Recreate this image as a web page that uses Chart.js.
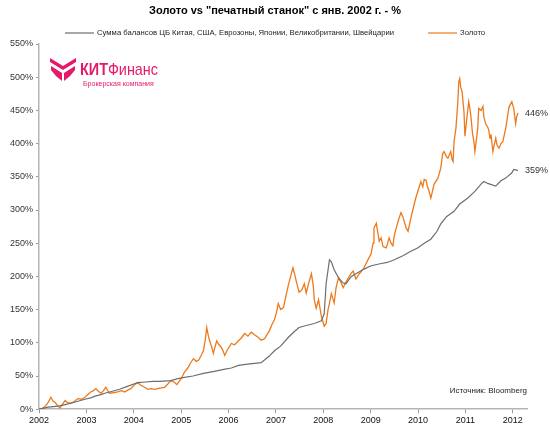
<!DOCTYPE html>
<html>
<head>
<meta charset="utf-8">
<script src="https://cdn.jsdelivr.net/npm/chart.js@4.4.1/dist/chart.umd.min.js"></script>
<style>
  body { margin: 0; background: #fff; }
  #wrap { width: 550px; height: 430px; }
</style>
</head>
<body>
<div id="wrap"><canvas id="chart" width="550" height="430"></canvas></div>
<script>
// тики оси X
const yearLabels = ["2002", "2003", "2004", "2005", "2006", "2007", "2008", "2009", "2010", "2011", "2012"];

// Сумма балансов ЦБ, % с янв. 2002
const cbYears = [2002.00, 2002.13, 2002.19, 2002.30, 2002.44, 2002.55, 2002.67, 2002.82, 2002.97, 2003.09,
  2003.20, 2003.31, 2003.39, 2003.55, 2003.70, 2003.85, 2004.00, 2004.08, 2004.25, 2004.40,
  2004.55, 2004.78, 2004.93, 2005.07, 2005.25, 2005.47, 2005.70, 2005.90, 2006.06, 2006.21,
  2006.40, 2006.55, 2006.69, 2006.86, 2006.97, 2007.10, 2007.26, 2007.39, 2007.49, 2007.64,
  2007.81, 2007.96, 2008.02, 2008.06, 2008.13, 2008.17, 2008.23, 2008.32, 2008.42, 2008.48,
  2008.59, 2008.69, 2008.86, 2009.01, 2009.20, 2009.35, 2009.50, 2009.68, 2009.85, 2010.00,
  2010.13, 2010.27, 2010.40, 2010.48, 2010.60, 2010.76, 2010.88, 2011.05, 2011.20, 2011.33,
  2011.39, 2011.47, 2011.64, 2011.75, 2011.85, 2011.98, 2012.02, 2012.08, 2012.11];
const cbValues = [0, 2, 3, 4, 5, 7, 9, 12, 15, 17,
  20, 22, 24, 27, 30, 34, 38, 40, 41, 42,
  42, 43, 46, 48, 50, 54, 57, 60, 62, 66,
  68, 69, 70, 80, 88, 95, 108, 117, 123, 126,
  129, 133, 144, 189, 225, 222, 210, 198, 190, 189,
  200, 204, 211, 216, 219, 221, 225, 231, 238, 243,
  250, 256, 268, 279, 290, 298, 309, 318, 328, 339,
  343, 340, 336, 344, 348, 356, 361, 360, 359];

// Золото, % с янв. 2002
const goldYears = [2002.00, 2002.06, 2002.13, 2002.19, 2002.25, 2002.30, 2002.34, 2002.40, 2002.44, 2002.50,
  2002.55, 2002.60, 2002.67, 2002.75, 2002.82, 2002.90, 2002.97, 2003.03, 2003.09, 2003.15,
  2003.20, 2003.25, 2003.31, 2003.36, 2003.41, 2003.45, 2003.49, 2003.58, 2003.66, 2003.74,
  2003.81, 2003.88, 2003.94, 2004.00, 2004.08, 2004.15, 2004.23, 2004.30, 2004.36, 2004.44,
  2004.51, 2004.58, 2004.65, 2004.72, 2004.78, 2004.85, 2004.91, 2004.96, 2005.01, 2005.07,
  2005.14, 2005.20, 2005.26, 2005.32, 2005.37, 2005.43, 2005.47, 2005.51, 2005.54, 2005.57,
  2005.60, 2005.64, 2005.68, 2005.72, 2005.75, 2005.80, 2005.85, 2005.90, 2005.92, 2005.98,
  2006.06, 2006.13, 2006.21, 2006.28, 2006.34, 2006.41, 2006.48, 2006.55, 2006.63, 2006.69,
  2006.76, 2006.81, 2006.86, 2006.92, 2006.97, 2007.01, 2007.05, 2007.10, 2007.16, 2007.21,
  2007.26, 2007.31, 2007.36, 2007.39, 2007.44, 2007.49, 2007.55, 2007.60, 2007.64, 2007.70,
  2007.75, 2007.79, 2007.81, 2007.85, 2007.90, 2007.96, 2008.02, 2008.06, 2008.10, 2008.13,
  2008.17, 2008.23, 2008.27, 2008.32, 2008.38, 2008.42, 2008.48, 2008.53, 2008.59, 2008.63,
  2008.69, 2008.76, 2008.81, 2008.86, 2008.95, 2009.01, 2009.05, 2009.07, 2009.12, 2009.16,
  2009.18, 2009.22, 2009.26, 2009.33, 2009.39, 2009.43, 2009.47, 2009.50, 2009.54, 2009.60,
  2009.64, 2009.68, 2009.72, 2009.75, 2009.79, 2009.85, 2009.92, 2009.96, 2010.00, 2010.06,
  2010.10, 2010.13, 2010.17, 2010.20, 2010.23, 2010.27, 2010.34, 2010.42, 2010.48, 2010.52,
  2010.55, 2010.60, 2010.63, 2010.69, 2010.72, 2010.74, 2010.76, 2010.80, 2010.84, 2010.86,
  2010.88, 2010.90, 2010.93, 2010.97, 2010.99, 2011.03, 2011.07, 2011.10, 2011.12, 2011.15,
  2011.18, 2011.20, 2011.23, 2011.26, 2011.28, 2011.33, 2011.37, 2011.39, 2011.43, 2011.47,
  2011.49, 2011.52, 2011.54, 2011.58, 2011.60, 2011.64, 2011.67, 2011.71, 2011.75, 2011.79,
  2011.85, 2011.92, 2011.98, 2012.00, 2012.02, 2012.06, 2012.08, 2012.11];
const goldValues = [0, 1, 4, 10, 18, 12, 10, 5, 2, 8,
  13, 10, 9, 12, 16, 15, 18, 22, 26, 28,
  31, 27, 24, 28, 33, 28, 24, 25, 26, 28,
  26, 29, 31, 36, 40, 36, 33, 30, 31, 30,
  31, 32, 33, 38, 43, 41, 37, 42, 47, 56,
  62, 70, 76, 72, 74, 82, 88, 105, 123, 112,
  103, 95, 84, 95, 103, 97, 93, 85, 81, 90,
  99, 97, 103, 108, 114, 110, 116, 112, 108, 104,
  106, 112, 118, 128, 135, 145, 159, 150, 153, 170,
  186, 200, 213, 205, 190, 176, 180, 189, 175, 192,
  204, 185, 165, 152, 165, 140, 125, 129, 150, 159,
  174, 160, 183, 198, 190, 183, 192, 198, 205, 208,
  196, 204, 208, 213, 226, 234, 250, 273, 280, 262,
  253, 258, 245, 243, 258, 250, 246, 262, 273, 288,
  296, 290, 280, 273, 268, 288, 309, 320, 329, 343,
  335, 346, 345, 335, 329, 318, 339, 348, 363, 385,
  388, 380, 378, 388, 376, 373, 403, 423, 463, 493,
  498, 485, 478, 448, 411, 438, 463, 450, 438, 415,
  403, 388, 405, 423, 453, 450, 456, 440, 429, 425,
  421, 408, 414, 388, 395, 408, 397, 393, 400, 403,
  423, 455, 463, 458, 453, 430, 440, 446];

const seriesNames = ["Сумма балансов ЦБ Китая, США, Еврозоны, Японии, Великобритании, Швейцарии", "Золото"];
const seriesColors = ["#6e6e6e", "#ec7a1c"];
const titleText = "Золото vs \"печатный станок\" с янв. 2002 г. - %";

const toPoints = (xs, ys) => xs.map((x, i) => ({ x: x, y: ys[i] }));

const FONT = "'Liberation Sans', Arial, sans-serif";
const PINK = "#e5186b";

// подписи в конце линий
const endLabels = {
  id: "endLabels",
  afterDatasetsDraw(chart) {
    const ctx = chart.ctx;
    ctx.save();
    ctx.font = "9px " + FONT;
    ctx.fillStyle = "#333";
    ctx.textBaseline = "middle";
    chart.data.datasets.forEach((ds, i) => {
      const meta = chart.getDatasetMeta(i);
      const last = meta.data[meta.data.length - 1];
      const v = ds.data[ds.data.length - 1].y;
      ctx.fillText(v + "%", last.x + 7, last.y);
    });
    ctx.restore();
  }
};

// заголовок, легенда, логотип, источник
const extras = {
  id: "extras",
  afterDraw(chart) {
    const ctx = chart.ctx;
    ctx.save();
    // заголовок
    ctx.fillStyle = "#000";
    ctx.font = "bold 11px " + FONT;
    ctx.textAlign = "center";
    ctx.textBaseline = "middle";
    ctx.fillText(titleText, 275, 11);
    // легенда
    ctx.textAlign = "left";
    ctx.font = "7.7px " + FONT;
    const lx = [65, 428];
    chart.data.datasets.forEach((ds, i) => {
      ctx.strokeStyle = ds.borderColor;
      ctx.lineWidth = 1.2;
      ctx.beginPath();
      ctx.moveTo(lx[i], 33);
      ctx.lineTo(lx[i] + 29, 33);
      ctx.stroke();
      ctx.fillStyle = "#222";
      ctx.fillText(ds.label, lx[i] + 32, 33);
    });
    // значок
    ctx.fillStyle = PINK;
    ctx.beginPath();
    ctx.moveTo(50, 58); ctx.lineTo(63, 66); ctx.lineTo(76, 58);
    ctx.lineTo(76, 62); ctx.lineTo(63, 70); ctx.lineTo(50, 62);
    ctx.closePath(); ctx.fill();
    ctx.beginPath();
    ctx.moveTo(51, 66); ctx.lineTo(62, 73); ctx.lineTo(62, 81);
    ctx.quadraticCurveTo(55, 76, 51, 70);
    ctx.closePath(); ctx.fill();
    ctx.beginPath();
    ctx.moveTo(75, 66); ctx.lineTo(64, 73); ctx.lineTo(64, 81);
    ctx.quadraticCurveTo(71, 76, 75, 70);
    ctx.closePath(); ctx.fill();
    // текст логотипа
    ctx.textBaseline = "alphabetic";
    ctx.font = "bold 17px " + FONT;
    const w1 = ctx.measureText("КИТ").width;
    ctx.font = "17px " + FONT;
    const w2 = ctx.measureText("Финанс").width;
    const k = 78 / (w1 + w2);
    ctx.save();
    ctx.translate(80, 75);
    ctx.scale(k, 1);
    ctx.font = "bold 17px " + FONT;
    ctx.fillText("КИТ", 0, 0);
    ctx.font = "17px " + FONT;
    ctx.fillText("Финанс", w1, 0);
    ctx.restore();
    ctx.font = "7px " + FONT;
    ctx.fillText("Брокерская компания", 83, 86);
    // источник
    ctx.fillStyle = "#222";
    ctx.font = "8px " + FONT;
    ctx.textAlign = "right";
    ctx.fillText("Источник: Bloomberg", 527, 393);
    ctx.restore();
  }
};

new Chart(document.getElementById("chart"), {
  type: "line",
  data: {
    datasets: [
      {
        label: seriesNames[0],
        data: toPoints(cbYears, cbValues),
        borderColor: seriesColors[0],
        backgroundColor: seriesColors[0],
        borderWidth: 1.2,
        pointRadius: 0
      },
      {
        label: seriesNames[1],
        data: toPoints(goldYears, goldValues),
        borderColor: seriesColors[1],
        backgroundColor: seriesColors[1],
        borderWidth: 1.3,
        pointRadius: 0
      }
    ]
  },
  options: {
    responsive: false,
    animation: false,
    layout: { padding: { left: 7, right: 23, top: 44, bottom: 2 } },
    plugins: {
      title: { display: false },
      legend: { display: false },
      tooltip: { enabled: false }
    },
    scales: {
      x: {
        type: "linear",
        min: 2002,
        max: 2012.3,
        afterBuildTicks: (scale) => {
          scale.ticks = yearLabels.map((y) => ({ value: Number(y) }));
        },
        grid: { display: true, drawOnChartArea: false, drawTicks: true, tickLength: 4, color: "#999" },
        border: { display: true, color: "#b5b5b5", width: 1.5 },
        ticks: {
          padding: 2,
          maxRotation: 0,
          autoSkip: false,
          color: "#111",
          font: { family: FONT, size: 9 },
          callback: (v, i) => yearLabels[i]
        }
      },
      y: {
        min: 0,
        max: 550,
        grid: { display: true, drawOnChartArea: false, drawTicks: true, tickLength: 3, color: "#999" },
        border: { display: true, color: "#b5b5b5", width: 1.5 },
        ticks: {
          stepSize: 50,
          padding: 3,
          color: "#333",
          font: { family: FONT, size: 9 },
          callback: (v) => v + "%"
        }
      }
    }
  },
  plugins: [endLabels, extras]
});
</script>
</body>
</html>
